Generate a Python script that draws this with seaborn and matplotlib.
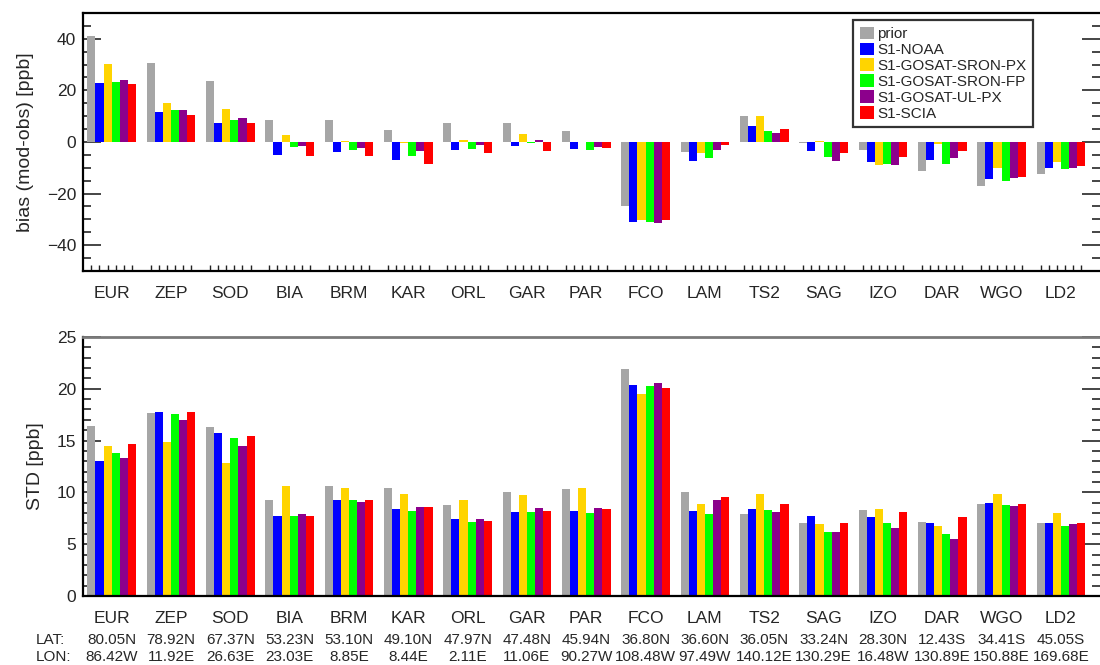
import numpy as np
import pandas as pd
import seaborn as sns
import matplotlib.pyplot as plt
from matplotlib.ticker import MultipleLocator, FixedLocator

stations = ['EUR', 'ZEP', 'SOD', 'BIA', 'BRM', 'KAR', 'ORL', 'GAR', 'PAR',
            'FCO', 'LAM', 'TS2', 'SAG', 'IZO', 'DAR', 'WGO', 'LD2']
lat = ['80.05N', '78.92N', '67.37N', '53.23N', '53.10N', '49.10N', '47.97N', '47.48N', '45.94N',
       '36.80N', '36.60N', '36.05N', '33.24N', '28.30N', '12.43S', '34.41S', '45.05S']
lon = ['86.42W', '11.92E', '26.63E', '23.03E', '8.85E', '8.44E', '2.11E', '11.06E', '90.27W',
       '108.48W', '97.49W', '140.12E', '130.29E', '16.48W', '130.89E', '150.88E', '169.68E']

runs = ['prior', 'S1-NOAA', 'S1-GOSAT-SRON-PX', 'S1-GOSAT-SRON-FP', 'S1-GOSAT-UL-PX', 'S1-SCIA']
colors = ['#a6a6a6', '#0000ff', '#ffd400', '#00ff00', '#8c008c', '#ff0000']

# bias (mod-obs) [ppb]
bias_prior = [40.9, 30.7, 23.6, 8.7, 8.7, 4.5, 7.2, 7.5, 4.1, -24.7, -3.8, 10.2, -0.4, -3.1, -11.1, -16.9, -12.3]
bias_noaa = [22.9, 11.5, 7.5, -5.0, -3.8, -6.9, -3.1, -1.5, -2.7, -31.1, -7.3, 6.0, -3.5, -7.7, -6.9, -14.2, -10.0]
bias_sron_px = [30.2, 15.2, 12.9, 2.6, 0.5, -0.4, 0.6, 2.9, -0.2, -30.3, -4.2, 10.2, 0.3, -8.8, -0.8, -10.0, -7.7]
bias_sron_fp = [23.3, 12.5, 8.7, -1.9, -3.1, -5.4, -2.7, -0.4, -3.1, -31.1, -6.1, 4.1, -5.8, -8.4, -8.4, -15.0, -10.4]
bias_ul_px = [24.0, 12.5, 9.1, -1.5, -2.3, -3.5, -1.2, 0.6, -1.9, -31.5, -3.1, 3.3, -7.3, -8.8, -6.1, -13.8, -10.0]
bias_scia = [22.5, 10.6, 7.2, -5.4, -5.4, -8.4, -4.2, -3.5, -2.3, -30.3, -1.2, 5.2, -4.2, -5.8, -3.5, -13.4, -9.2]

# STD [ppb]
std_prior = [16.4, 17.7, 16.3, 9.3, 10.6, 10.4, 8.8, 10.0, 10.3, 21.9, 10.0, 7.9, 7.0, 8.3, 7.1, 8.9, 7.0]
std_noaa = [13.0, 17.8, 15.7, 7.7, 9.3, 8.4, 7.4, 8.1, 8.2, 20.4, 8.2, 8.4, 7.7, 7.6, 7.0, 9.0, 7.0]
std_sron_px = [14.5, 14.9, 12.8, 10.6, 10.4, 9.8, 9.3, 9.7, 10.4, 19.5, 8.9, 9.8, 6.9, 8.4, 6.8, 9.8, 8.0]
std_sron_fp = [13.8, 17.6, 15.2, 7.7, 9.3, 8.2, 7.1, 8.1, 8.0, 20.3, 7.9, 8.3, 6.2, 7.0, 6.0, 8.8, 6.8]
std_ul_px = [13.3, 17.0, 14.5, 7.9, 9.1, 8.6, 7.4, 8.5, 8.5, 20.6, 9.3, 8.1, 6.2, 6.6, 5.5, 8.7, 6.9]
std_scia = [14.7, 17.8, 15.4, 7.7, 9.3, 8.6, 7.2, 8.2, 8.4, 20.1, 9.6, 8.9, 7.0, 8.1, 7.6, 8.9, 7.0]

bias = [bias_prior, bias_noaa, bias_sron_px, bias_sron_fp, bias_ul_px, bias_scia]
std = [std_prior, std_noaa, std_sron_px, std_sron_fp, std_ul_px, std_scia]

rows = []
for r, run in enumerate(runs):
    for s, st in enumerate(stations):
        rows.append({'station': st, 'run': run, 'bias': bias[r][s], 'std': std[r][s]})
df = pd.DataFrame(rows)

sns.set_style('ticks')
plt.rcParams['font.family'] = ['Liberation Sans', 'DejaVu Sans']

fig = plt.figure(figsize=(11, 6.65), dpi=100)
ax1 = fig.add_axes([0.0755, 0.5925, 0.9245, 0.388])
ax2 = fig.add_axes([0.0755, 0.1038, 0.9245, 0.3895])

group_w = 0.82
bar_w = group_w / len(runs)
bar_pos = [i + (k - 2.5) * bar_w for i in range(len(stations)) for k in range(len(runs))]

sns.barplot(data=df, x='station', y='bias', hue='run', palette=colors, width=group_w, gap=0,
            saturation=1, errorbar=None, linewidth=0, ax=ax1)
sns.barplot(data=df, x='station', y='std', hue='run', palette=colors, width=group_w, gap=0,
            saturation=1, errorbar=None, linewidth=0, ax=ax2, legend=False)

for ax in (ax1, ax2):
    ax.set_xlim(-0.482, 16.66)
    ax.set_xlabel('')
    ax.xaxis.set_minor_locator(FixedLocator(bar_pos))
    ax.tick_params(axis='x', which='major', length=0, pad=11, labelsize=12.5)
    ax.tick_params(axis='x', which='minor', direction='in', length=4, width=1, color='#222222',
                   top=False)
    ax.tick_params(axis='y', which='both', direction='in', left=True, right=True, width=1.2,
                   labelsize=12.5, pad=5)
    ax.tick_params(axis='y', which='major', length=13)
    ax.tick_params(axis='y', which='minor', length=6)
    for sp in ax.spines.values():
        sp.set_visible(True)
        sp.set_linewidth(1.6)
        sp.set_color('black')
    ax.spines['right'].set_visible(False)

ax1.set_ylim(-50, 50)
ax1.yaxis.set_major_locator(MultipleLocator(20))
ax1.yaxis.set_minor_locator(MultipleLocator(5))
ax1.set_ylabel('bias (mod-obs) [ppb]', fontsize=14, labelpad=9)

ax2.set_ylim(0, 25)
ax2.yaxis.set_major_locator(MultipleLocator(5))
ax2.yaxis.set_minor_locator(MultipleLocator(1))
ax2.set_ylabel('STD [ppb]', fontsize=14, labelpad=9)
ax2.spines['top'].set_color('#7a7a7a')
ax2.spines['top'].set_linewidth(2)

leg = ax1.legend(loc='upper left', bbox_to_anchor=(0.757, 0.973), borderaxespad=0,
                 fontsize=11, frameon=True, fancybox=False, framealpha=1,
                 handlelength=0.9, handleheight=0.9, handletextpad=0.25,
                 labelspacing=0.08, borderpad=0.45, title=None)
leg.get_frame().set_edgecolor('#333333')
leg.get_frame().set_linewidth(1.6)

trans = ax2.get_xaxis_transform()
ax2.text(-0.482 - 0.80, -0.17, 'LAT:', transform=trans, fontsize=11, ha='left', va='center')
ax2.text(-0.482 - 0.80, -0.236, 'LON:', transform=trans, fontsize=11, ha='left', va='center')
for i in range(len(stations)):
    ax2.text(i, -0.17, lat[i], transform=trans, fontsize=11, ha='center', va='center')
    ax2.text(i, -0.236, lon[i], transform=trans, fontsize=11, ha='center', va='center')

plt.savefig('out.png', dpi=100)
